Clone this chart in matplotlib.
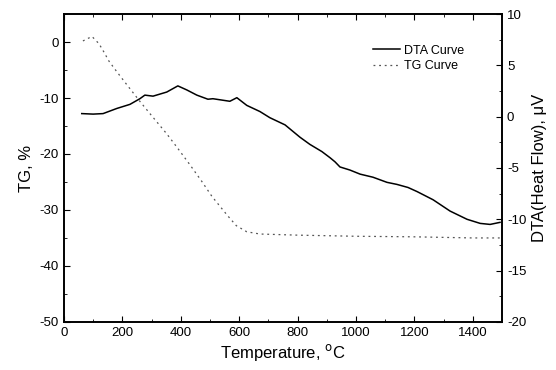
import matplotlib
matplotlib.use('Agg')
import matplotlib.pyplot as plt
from matplotlib.ticker import MultipleLocator

plt.rcParams['font.family'] = ['Liberation Sans', 'DejaVu Sans']
plt.rcParams['axes.unicode_minus'] = False

# TG curve (left axis)
tg_temp = [65, 96, 120, 137, 154, 181, 215, 260, 301, 352, 387, 431, 472,
           507, 560, 590, 626, 671, 800, 1000, 1200, 1400, 1493]
tg_val = [0.2, 1.0, -0.3, -1.8, -3.4, -5.3, -7.6, -10.6, -13.2, -16.4, -18.8,
          -21.9, -24.9, -27.6, -31.0, -32.8, -33.9, -34.3, -34.5, -34.7, -34.8,
          -35.0, -35.0]

# DTA curve (right axis)
dta_temp = [61, 100, 134, 181, 226, 260, 277, 305, 352, 390, 421, 455, 493, 510,
            568, 592, 626, 671, 705, 757, 808, 842, 883, 911, 928, 945, 979,
            1014, 1058, 1106, 1140, 1178, 1209, 1264, 1322, 1380, 1425, 1459, 1493]
dta_val = [0.3, 0.25, 0.3, 0.8, 1.2, 1.75, 2.1, 2.0, 2.4, 3.0, 2.6, 2.1, 1.7,
           1.75, 1.5, 1.85, 1.1, 0.5, -0.1, -0.8, -2.0, -2.7, -3.4, -4.0, -4.4,
           -4.9, -5.2, -5.6, -5.9, -6.4, -6.6, -6.9, -7.3, -8.1, -9.2, -10.0,
           -10.4, -10.5, -10.3]

fig = plt.figure(figsize=(5.56, 3.7), dpi=100)
ax = fig.add_axes([0.115, 0.13, 0.788, 0.832])
ax2 = ax.twinx()

l2, = ax.plot(tg_temp, tg_val, color='#555555', lw=0.9, ls=(0, (1.5, 3)))
l1, = ax2.plot(dta_temp, dta_val, color='black', lw=1.1)

ax.set_xlim(0, 1500)
ax.set_ylim(-50, 5)
ax2.set_ylim(-20, 10)

ax.xaxis.set_major_locator(MultipleLocator(200))
ax.xaxis.set_minor_locator(MultipleLocator(100))
ax.yaxis.set_major_locator(MultipleLocator(10))
ax.yaxis.set_minor_locator(MultipleLocator(5))
ax2.yaxis.set_major_locator(MultipleLocator(5))
ax2.yaxis.set_minor_locator(MultipleLocator(2.5))

ax.tick_params(which='both', direction='in', top=True, labelsize=9.5)
ax.tick_params(which='major', length=4)
ax.tick_params(which='minor', length=2)
ax2.tick_params(which='both', direction='in', labelsize=9.5)
ax2.tick_params(which='major', length=4)
ax2.tick_params(which='minor', length=2)

for a in (ax, ax2):
    for s in a.spines.values():
        s.set_linewidth(1.2)

ax.set_xlabel('Temperature, $^{\\mathrm{o}}$C', fontsize=12, labelpad=2)
ax.set_ylabel('TG, %', fontsize=12)
ax2.set_ylabel('DTA(Heat Flow), \u03bcV', fontsize=12, labelpad=4)

ax2.legend([l1, l2], ['DTA Curve', 'TG Curve'], loc='upper left',
           bbox_to_anchor=(0.705, 0.9), frameon=False, fontsize=9,
           handlelength=2.2, handletextpad=0.3, labelspacing=0.25,
           borderpad=0, borderaxespad=0)

fig.savefig('out.png', dpi=100)
